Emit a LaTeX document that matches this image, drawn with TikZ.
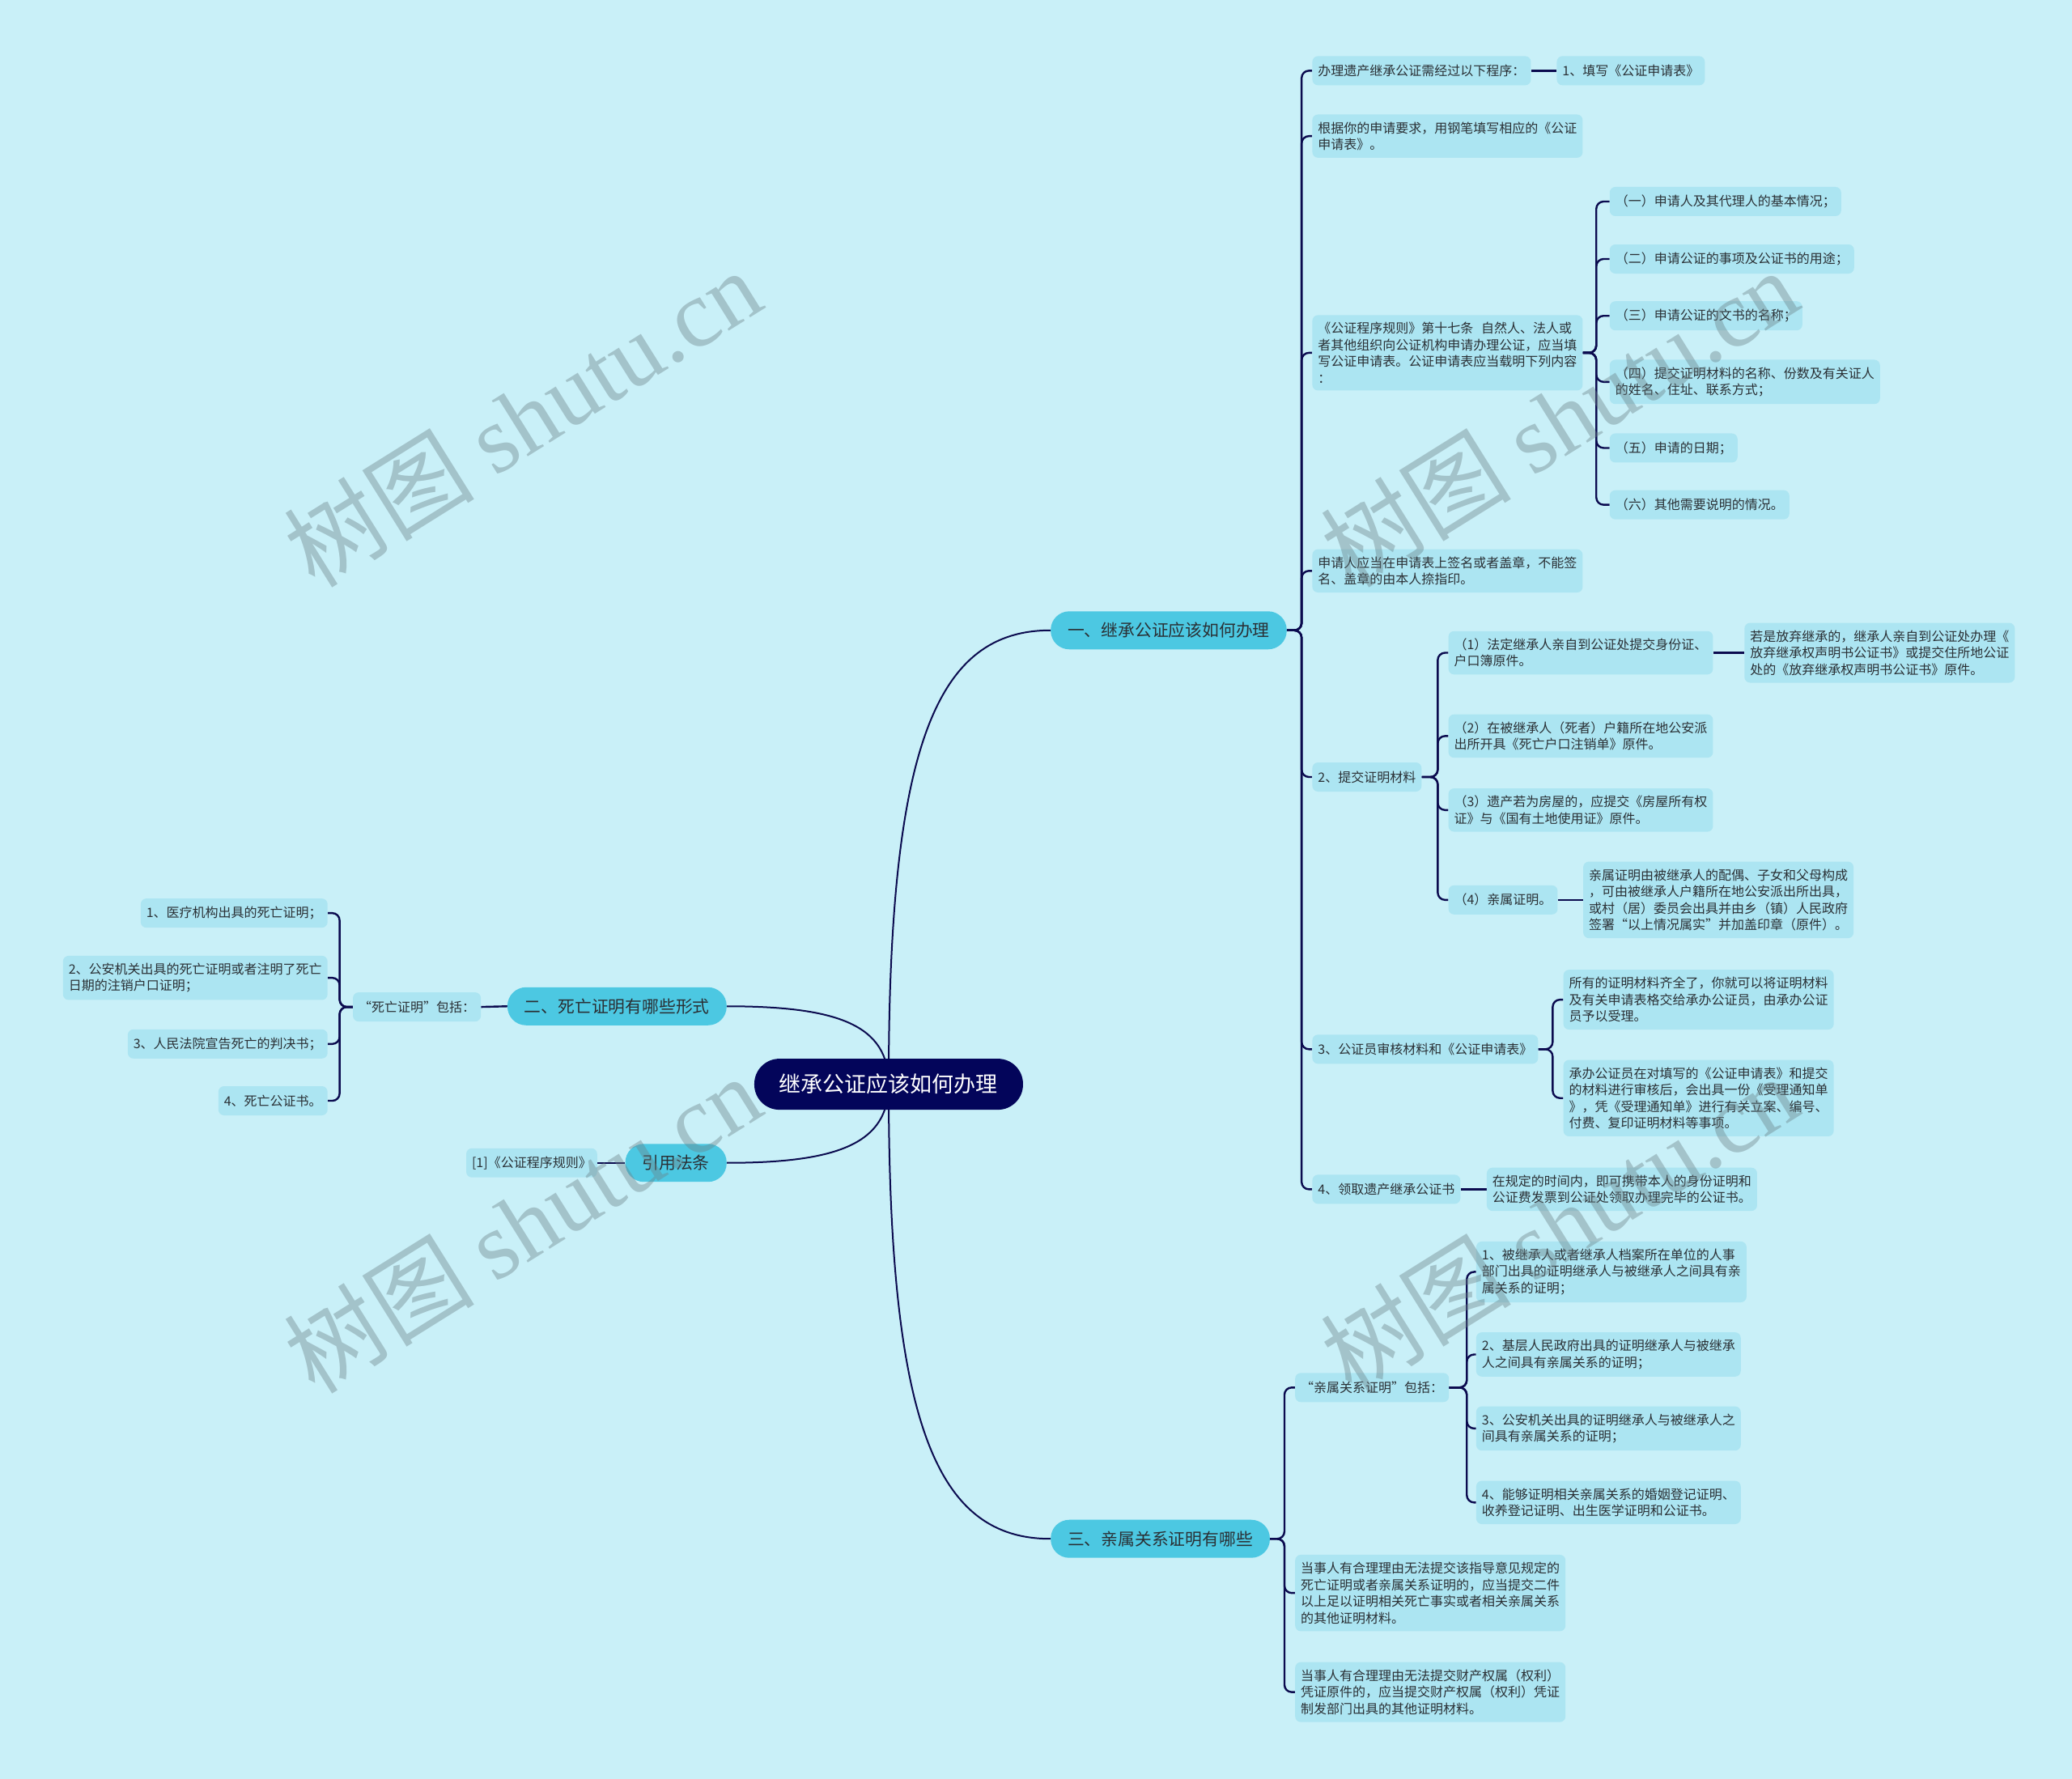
\documentclass[tikz,border=0pt]{standalone}
\usepackage{fontspec}
\setmainfont{Noto Sans CJK SC}
\newfontfamily\wmlatin{Liberation Serif}
\newfontfamily\wmcjk{Noto Sans CJK SC}
\usetikzlibrary{calc}
\definecolor{bgc}{HTML}{C9F0F8}
\definecolor{leafc}{HTML}{ACE5F2}
\definecolor{lonec}{HTML}{4CC8E2}
\definecolor{rootc}{HTML}{03055A}
\definecolor{linec}{HTML}{0B0B4F}
\definecolor{txtc}{HTML}{2A3035}
\definecolor{wmc}{HTML}{6A8086}
\pgfdeclarelayer{bglayer}
\pgfdeclarelayer{linelayer}
\pgfsetlayers{bglayer,linelayer,main}
\begin{document}
\begin{tikzpicture}[x=1.6327pt,y=-1.6327pt,
 rootbox/.style={fill=rootc,text=white,rounded corners=31pt,font=\fontsize{27}{32}\selectfont,inner xsep=31pt,inner ysep=0pt,minimum height=63pt},
 lonebox/.style={fill=lonec,text=txtc,rounded corners=23pt,font=\fontsize{20.8}{24}\selectfont,inner xsep=21pt,inner ysep=0pt,minimum height=47pt},
 leafbox/.style={fill=leafc,text=txtc,rounded corners=7pt,font=\fontsize{16}{20.5}\selectfont,inner xsep=7pt,inner ysep=9pt,minimum height=36pt,align=left},
 conn/.style={draw=linec,line width=2.4pt,rounded corners=9pt},
 mainconn/.style={draw=linec,line width=2pt},
 wmark/.style={text=wmc,text opacity=0.4,rotate=32,font=\fontsize{118}{118}\selectfont}
]
\begin{pgfonlayer}{bglayer}
\fill[bgc] (0,0) rectangle (1568,1346);
\end{pgfonlayer}
\useasboundingbox (0,0) rectangle (1568,1346);

% root and level 1
\node[rootbox] (root) at (672.5,820.5) {继承公证应该如何办理};
\node[lonebox,anchor=west] (n1) at (795,477) {一、继承公证应该如何办理};
\node[lonebox,anchor=east] (n2) at (550,761.5) {二、死亡证明有哪些形式};
\node[lonebox,anchor=east] (n3) at (550,880) {引用法条};
\node[lonebox,anchor=west] (n4) at (795,1164.5) {三、亲属关系证明有哪些};

% branch one
\node[leafbox,anchor=west] (a1) at (993,53.5) {办理遗产继承公证需经过以下程序：};
\node[leafbox,anchor=west] (a1a) at (1178,53.5) {1、填写《公证申请表》};
\node[leafbox,anchor=west] (a2) at (993,103) {根据你的申请要求，用钢笔填写相应的《公证\\申请表》。};
\node[leafbox,anchor=west] (a3) at (993,267) {《公证程序规则》第十七条\hspace{0.6em}自然人、法人或\\者其他组织向公证机构申请办理公证，应当填\\写公证申请表。公证申请表应当载明下列内容\\：};
\node[leafbox,anchor=west] (a3a) at (1218,152.5) {（一）申请人及其代理人的基本情况；};
\node[leafbox,anchor=west] (a3b) at (1218,196) {（二）申请公证的事项及公证书的用途；};
\node[leafbox,anchor=west] (a3c) at (1218,239) {（三）申请公证的文书的名称；};
\node[leafbox,anchor=west] (a3d) at (1218,289) {（四）提交证明材料的名称、份数及有关证人\\的姓名、住址、联系方式；};
\node[leafbox,anchor=west] (a3e) at (1218,339) {（五）申请的日期；};
\node[leafbox,anchor=west] (a3f) at (1218,382) {（六）其他需要说明的情况。};
\node[leafbox,anchor=west] (a4) at (993,432) {申请人应当在申请表上签名或者盖章，不能签\\名、盖章的由本人捺指印。};
\node[leafbox,anchor=west] (a5) at (993,588) {2、提交证明材料};
\node[leafbox,anchor=west] (a5a) at (1096,494) {（1）法定继承人亲自到公证处提交身份证、\\户口簿原件。};
\node[leafbox,anchor=west] (a5a1) at (1320,494) {若是放弃继承的，继承人亲自到公证处办理《\\放弃继承权声明书公证书》或提交住所地公证\\处的《放弃继承权声明书公证书》原件。};
\node[leafbox,anchor=west] (a5b) at (1096,557) {（2）在被继承人（死者）户籍所在地公安派\\出所开具《死亡户口注销单》原件。};
\node[leafbox,anchor=west] (a5c) at (1096,613) {（3）遗产若为房屋的，应提交《房屋所有权\\证》与《国有土地使用证》原件。};
\node[leafbox,anchor=west] (a5d) at (1096,681) {（4）亲属证明。};
\node[leafbox,anchor=west] (a5d1) at (1198,681) {亲属证明由被继承人的配偶、子女和父母构成\\，可由被继承人户籍所在地公安派出所出具，\\或村（居）委员会出具并由乡（镇）人民政府\\签署“以上情况属实”并加盖印章（原件）。};
\node[leafbox,anchor=west] (a6) at (993,794) {3、公证员审核材料和《公证申请表》};
\node[leafbox,anchor=west] (a6a) at (1183,756.5) {所有的证明材料齐全了，你就可以将证明材料\\及有关申请表格交给承办公证员，由承办公证\\员予以受理。};
\node[leafbox,anchor=west] (a6b) at (1183,831) {承办公证员在对填写的《公证申请表》和提交\\的材料进行审核后，会出具一份《受理通知单\\》，凭《受理通知单》进行有关立案、编号、\\付费、复印证明材料等事项。};
\node[leafbox,anchor=west] (a7) at (993,900) {4、领取遗产继承公证书};
\node[leafbox,anchor=west] (a7a) at (1125,900) {在规定的时间内，即可携带本人的身份证明和\\公证费发票到公证处领取办理完毕的公证书。};

% branch three
\node[leafbox,anchor=west] (c1) at (980,1050) {“亲属关系证明”包括：};
\node[leafbox,anchor=west] (c1a) at (1117,962.5) {1、被继承人或者继承人档案所在单位的人事\\部门出具的证明继承人与被继承人之间具有亲\\属关系的证明；};
\node[leafbox,anchor=west] (c1b) at (1117,1025) {2、基层人民政府出具的证明继承人与被继承\\人之间具有亲属关系的证明；};
\node[leafbox,anchor=west] (c1c) at (1117,1081) {3、公安机关出具的证明继承人与被继承人之\\间具有亲属关系的证明；};
\node[leafbox,anchor=west] (c1d) at (1117,1137) {4、能够证明相关亲属关系的婚姻登记证明、\\收养登记证明、出生医学证明和公证书。};
\node[leafbox,anchor=west] (c2) at (980,1205.5) {当事人有合理理由无法提交该指导意见规定的\\死亡证明或者亲属关系证明的，应当提交二件\\以上足以证明相关死亡事实或者相关亲属关系\\的其他证明材料。};
\node[leafbox,anchor=west] (c3) at (980,1280.5) {当事人有合理理由无法提交财产权属（权利）\\凭证原件的，应当提交财产权属（权利）凭证\\制发部门出具的其他证明材料。};

% branch two
\node[leafbox,anchor=east] (b1) at (364,762) {“死亡证明”包括：};
\node[leafbox,anchor=east] (b1a) at (248,691) {1、医疗机构出具的死亡证明；};
\node[leafbox,anchor=east] (b1b) at (248,740) {2、公安机关出具的死亡证明或者注明了死亡\\日期的注销户口证明；};
\node[leafbox,anchor=east] (b1c) at (248,790) {3、人民法院宣告死亡的判决书；};
\node[leafbox,anchor=east] (b1d) at (248,833) {4、死亡公证书。};
\node[leafbox,anchor=east] (d1) at (452,880) {[1]《公证程序规则》};

\begin{pgfonlayer}{linelayer}
% main curves
\draw[mainconn] (root.center) .. controls (672.5,563) and (709,477) .. (n1.west);
\draw[mainconn] (root.center) .. controls (672.5,1079) and (709,1164.5) .. (n4.west);
\draw[mainconn] (root.center) .. controls (672.5,776) and (635,761.5) .. (n2.east);
\draw[mainconn] (root.center) .. controls (672.5,865) and (635,880) .. (n3.east);
% branch one
\foreach \c in {a1,a2,a3,a4,a5,a6,a7}
  \draw[conn] (n1.east) -- (985,477) |- (\c.west);
\draw[conn] (a1.east) -- (a1a.west);
\foreach \c in {a3a,a3b,a3c,a3d,a3e,a3f}
  \draw[conn] (a3.east) -- (1208,267) |- (\c.west);
\foreach \c in {a5a,a5b,a5c,a5d}
  \draw[conn] (a5.east) -- (1088,588) |- (\c.west);
\draw[conn] (a5a.east) -- (a5a1.west);
\draw[conn] (a5d.east) -- (a5d1.west);
\foreach \c in {a6a,a6b}
  \draw[conn] (a6.east) -- (1175,794) |- (\c.west);
\draw[conn] (a7.east) -- (a7a.west);
% branch three
\foreach \c in {c1,c2,c3}
  \draw[conn] (n4.east) -- (972,1164.5) |- (\c.west);
\foreach \c in {c1a,c1b,c1c,c1d}
  \draw[conn] (c1.east) -- (1110,1050) |- (\c.west);
% branch two
\draw[conn] (n2.west) -- (b1.east);
\foreach \c in {b1a,b1b,b1c,b1d}
  \draw[conn] (b1.west) -- (257,762) |- (\c.east);
\draw[conn] (n3.west) -- (d1.east);
\end{pgfonlayer}

% watermarks
\node[wmark] (wm1) at (395,316) {{\wmcjk 树图} {\wmlatin shutu.cn}};
\node[wmark] (wm2) at (1180,316) {{\wmcjk 树图} {\wmlatin shutu.cn}};
\node[wmark] (wm3) at (395,926) {{\wmcjk 树图} {\wmlatin shutu.cn}};
\node[wmark] (wm4) at (1180,926) {{\wmcjk 树图} {\wmlatin shutu.cn}};
\end{tikzpicture}
\end{document}
